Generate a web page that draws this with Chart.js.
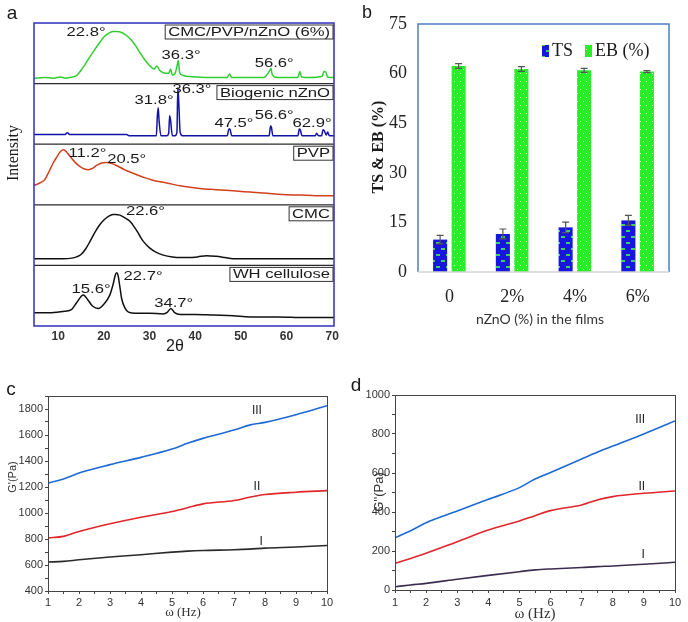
<!DOCTYPE html>
<html><head><meta charset="utf-8">
<script src="https://cdn.jsdelivr.net/npm/chart.js@4.4.1/dist/chart.umd.min.js"></script>
<style>
html,body{margin:0;padding:0;background:#fff;}
#wrap{position:relative;width:688px;height:622px;overflow:hidden;background:#fff;}
canvas{position:absolute;}
.t{position:absolute;white-space:nowrap;transform:translate(-50%,-50%);line-height:1;color:#1a1a1a;}
.r{transform:translate(-50%,-50%) rotate(-90deg);}
</style></head><body>
<div id="wrap">
  <canvas id="ca" style="left:0;top:0"></canvas>
  <canvas id="cb" style="left:345px;top:0"></canvas>
  <canvas id="cc" style="left:0;top:370px"></canvas>
  <canvas id="cd" style="left:345px;top:370px"></canvas>
  <div class="t" style="left:12px;top:13px;font:19px 'Liberation Sans'">a</div>
  <div class="t" style="left:367px;top:12px;font:18px 'Liberation Sans'">b</div>
  <div class="t" style="left:11px;top:389px;font:19px 'Liberation Sans'">c</div>
  <div class="t" style="left:356px;top:385px;font:19px 'Liberation Sans'">d</div>
  <div class="t r" style="left:13px;top:153px;font:16px 'Liberation Serif'">Intensity</div>
  <div class="t" style="left:175px;top:346px;font:16px 'Liberation Sans'">2θ</div>
  <div class="t r" style="left:378px;top:147px;font:bold 16px 'Liberation Serif'">TS &amp; EB (%)</div>
  <div class="t" style="left:540px;top:318px;font:14px Lato;color:#333">nZnO (%) in the films</div>
  <div class="t r" style="left:12px;top:477px;font:11px 'Liberation Sans';color:#333">G'(Pa)</div>
  <div class="t" style="left:183px;top:612px;font:13px 'Liberation Serif';color:#333">ω (Hz)</div>
  <div class="t r" style="left:378px;top:492px;font:13px 'Liberation Sans';color:#333">G''(Pa)</div>
  <div class="t" style="left:535px;top:613px;font:15px 'Liberation Serif';color:#333">ω (Hz)</div>
</div>
<script>
// ---------------- DATA ----------------
// Panel a: XRD patterns (2θ in degrees, relative intensity 0-100 within each band)
const xrdTicks = [10, 20, 30, 40, 50, 60, 70];
const bandLabels = ['CMC/PVP/nZnO (6%)', 'Biogenic nZnO', 'PVP', 'CMC', 'WH cellulose'];

const zno6Theta = [4.7, 7, 9, 10.5, 11.5, 12.5, 14, 15, 16, 17, 18, 19, 20, 21, 22, 22.8, 24, 25, 26, 27, 28, 29, 30, 31, 31.6, 32.2, 33, 34.2, 34.6, 35.0, 35.6, 36.0, 36.3, 36.6, 37.2, 38, 40, 44, 47, 47.5, 48, 50, 55, 56.3, 56.6, 56.9, 58, 62.5, 62.9, 63.3, 65, 67.8, 68.2, 68.6, 69, 70.4];
const zno6Int   = [9, 10, 9, 11, 9, 10, 13, 22, 33, 45, 56, 67, 77, 83, 86, 86, 84, 79, 72, 62, 50, 39, 30, 24, 29, 22, 18, 17, 24, 14, 17, 28, 38, 18, 14, 12, 11, 10, 10, 16, 10, 10, 10, 21, 25, 14, 10, 10, 20, 11, 10, 12, 20, 19, 11, 10];

const znoTheta = [4.7, 8, 11.5, 12, 12.5, 18, 20, 25, 25.5, 30, 31.5, 31.7, 31.9, 32.1, 32.5, 33.8, 34.2, 34.4, 34.6, 35.0, 35.6, 36.0, 36.2, 36.4, 36.7, 37.2, 40, 47.0, 47.4, 47.6, 48.0, 52, 56.2, 56.5, 56.7, 57.0, 60, 62.5, 62.8, 63.0, 63.4, 65, 66.3, 66.6, 67, 67.7, 68.0, 68.3, 68.7, 69.0, 69.4, 70.4];
const znoInt   = [16, 16, 16, 19, 16, 16, 16, 16, 14, 14, 14, 45, 60, 38, 14, 14, 18, 47, 40, 14, 14, 20, 93, 70, 20, 14, 14, 14, 25, 25, 14, 14, 14, 30, 28, 14, 14, 14, 25, 24, 14, 14, 14, 18, 14, 14, 24, 22, 15, 20, 14, 14];

const pvpTheta = [4.7, 6, 7.1, 8, 8.9, 9.8, 10.4, 11.1, 11.6, 12.6, 13.7, 14.8, 15.8, 16.6, 17.5, 18.4, 19.5, 20.6, 21.8, 23, 24.5, 26.4, 28.5, 30.5, 33.8, 37, 41, 44.5, 48.3, 52, 55.7, 59, 63, 66.5, 70.4];
const pvpInt   = [32, 36, 42, 55, 69, 80, 87, 91, 89, 80, 70, 63, 59, 58, 60, 65, 69, 70, 68, 64, 58, 52, 46, 41, 36, 31, 27, 25, 23, 21, 19, 17, 16, 15, 15];

const cmcTheta = [4.7, 8, 11, 13, 14, 15, 16, 17, 18, 19.1, 20, 21, 22, 22.6, 23.5, 24.5, 25.7, 26.8, 27.7, 28.6, 30, 31.6, 33, 35, 36.7, 38.5, 40.5, 42.5, 44.5, 46.5, 48.3, 52, 58, 64, 70.4];
const cmcInt   = [11, 11, 11, 12, 14, 18, 27, 40, 54, 67, 75, 81, 84, 84, 83, 79, 73, 62, 51, 40, 29, 21, 17, 14, 13, 13, 14, 16, 15, 13, 11, 11, 11, 11, 11];

const whTheta = [4.7, 8, 11, 12.9, 14, 15.5, 16.5, 17.5, 18.8, 20, 21.3, 22.0, 22.5, 22.8, 23.1, 23.5, 23.9, 24.6, 25.4, 27, 30, 33, 33.8, 34.7, 35.5, 36.7, 40, 44, 48.3, 52, 58, 64, 70.4];
const whInt   = [22, 22, 24, 27, 38, 51, 43, 33, 29, 36, 51, 68, 84, 88, 84, 65, 45, 30, 23, 21, 21, 20, 22, 29, 22, 19, 19, 18, 17, 15, 15, 14, 14];

const xrdThetas = [zno6Theta, znoTheta, pvpTheta, cmcTheta, whTheta];
const xrdInts = [zno6Int, znoInt, pvpInt, cmcInt, whInt];

// peak annotation texts per band
const peakTexts = [['22.8°', '36.3°', '56.6°'], ['31.8°', '36.3°', '47.5°', '56.6°', '62.9°'], ['11.2°', '20.5°'], ['22.6°'], ['22.7°', '15.6°', '34.7°']];

// Panel b: mechanical properties
const filmCats = ['0', '2%', '4%', '6%'];
const tsValues = [9.8, 11.5, 13.5, 15.6];
const tsErr = [1.3, 1.5, 1.6, 1.5];
const ebValues = [62.3, 61.4, 61.0, 60.6];
const ebErr = [0.7, 0.7, 0.6, 0.3];

// Panels c, d: rheology
const omega = [1, 1.5, 2, 3, 4, 5, 5.5, 6, 7, 7.5, 8, 9, 10];
const gPrimeIII = [1231, 1262, 1308, 1372, 1428, 1492, 1536, 1574, 1638, 1676, 1697, 1756, 1825];
const gPrimeII  = [809, 820, 858, 917, 968, 1011, 1040, 1070, 1096, 1121, 1142, 1160, 1172];
const gPrimeI   = [623, 628, 640, 661, 679, 699, 707, 712, 717, 722, 730, 738, 750];
const gDblIII = [268, 304, 345, 405, 465, 525, 569, 603, 672, 706, 738, 800, 867];
const gDblII  = [137, 162, 188, 248, 308, 354, 381, 407, 436, 462, 479, 496, 508];
const gDblI   = [17, 26, 34, 55, 75, 94, 103, 108, 115, 120, 123, 132, 142];
const seriesNames = ['I', 'II', 'III'];

// ---------------- STYLE / LAYOUT ----------------
Chart.defaults.animation = false;
Chart.defaults.font.family = "'Liberation Sans', Arial, sans-serif";
Chart.defaults.plugins.legend.display = false;
Chart.defaults.plugins.tooltip.enabled = false;

function sizeCanvas(id, w, h) {
  const c = document.getElementById(id);
  c.width = w; c.height = h; c.style.width = w + 'px'; c.style.height = h + 'px';
  return c;
}
function stretchText(ctx, txt, cx, cy, sx) {
  ctx.save(); ctx.translate(cx, cy); ctx.scale(sx, 1);
  ctx.textAlign = 'center'; ctx.textBaseline = 'middle';
  ctx.fillText(txt, 0, 0); ctx.restore();
}

// ---------- Panel a ----------
const bandColors = ['#2fcf2f', '#1212a8', '#d2401e', '#111111', '#111111'];
// annotation anchors [2θ, intensity] (layout only)
const peakAnchors = [[[16.1, 85], [36.9, 47], [57.3, 33]],
  [[31.0, 72], [39.3, 90], [48.5, 35], [57.3, 48], [65.6, 35]],
  [[16.4, 85], [25.0, 75]],
  [[29.1, 89]],
  [[28.6, 82], [17.2, 61], [35.3, 38]]];

const scalesA = {
  x: {
    type: 'linear', min: 4.7, max: 70.4,
    afterBuildTicks: s => { s.ticks = xrdTicks.map(v => ({ value: v })); },
    ticks: { font: { weight: 'bold', size: 12 }, color: '#333', padding: 3, maxRotation: 0, autoSkip: false },
    grid: { display: false, drawTicks: false }, border: { display: false },
    afterFit: s => { s.height = 34; }
  }
};
for (let i = 4; i >= 0; i--) {
  scalesA['b' + i] = {
    type: 'linear', position: 'left', stack: 'xrd', stackWeight: 1, min: 0, max: 100,
    ticks: { display: false }, grid: { display: false, drawTicks: false }, border: { display: false },
    afterFit: s => { s.width = 34; }
  };
}
const xrdPlugin = {
  id: 'xrdDeco',
  afterDraw(chart) {
    const { ctx, chartArea: a, scales } = chart;
    ctx.save();
    ctx.strokeStyle = '#2a2a2a'; ctx.lineWidth = 1.2;
    for (let i = 1; i < 5; i++) {
      const y = scales['b' + i].top;
      ctx.beginPath(); ctx.moveTo(a.left, y); ctx.lineTo(a.right, y); ctx.stroke();
    }
    ctx.strokeStyle = '#3b3bc4'; ctx.lineWidth = 1.6;
    ctx.strokeRect(a.left, a.top, a.right - a.left, a.bottom - a.top);
    ctx.font = "13px 'Liberation Sans'";
    const sx = 1.28;
    for (let i = 0; i < 5; i++) {
      const s = scales['b' + i];
      const w = ctx.measureText(bandLabels[i]).width * sx + 6, h = 14;
      const x1 = a.right - w - 1, y1 = s.top + 2;
      ctx.fillStyle = '#fff'; ctx.fillRect(x1, y1, w, h);
      ctx.strokeStyle = '#333'; ctx.lineWidth = 1; ctx.strokeRect(x1, y1, w, h);
      ctx.fillStyle = '#1a1a1a';
      stretchText(ctx, bandLabels[i], x1 + w / 2, y1 + h / 2 + 0.5, sx);
      peakTexts[i].forEach((t, j) => {
        const [th, inten] = peakAnchors[i][j];
        stretchText(ctx, t, scales.x.getPixelForValue(th), s.getPixelForValue(inten), sx);
      });
    }
    ctx.restore();
  }
};
new Chart(sizeCanvas('ca', 345, 360), {
  type: 'line',
  data: {
    datasets: xrdThetas.map((th, i) => ({
      label: bandLabels[i],
      data: th.map((t, j) => ({ x: t, y: xrdInts[i][j] })),
      yAxisID: 'b' + i, borderColor: bandColors[i], borderWidth: 1.5,
      pointRadius: 0, cubicInterpolationMode: 'monotone', fill: false
    }))
  },
  options: { responsive: false, layout: { padding: { top: 23, right: 11, left: 0, bottom: 0 } }, scales: scalesA },
  plugins: [xrdPlugin]
});

// ---------- Panel b ----------
function makePattern(w, h, bg, fg, marks) {
  const c = document.createElement('canvas'); c.width = w; c.height = h;
  const x = c.getContext('2d');
  x.fillStyle = bg; x.fillRect(0, 0, w, h);
  x.fillStyle = fg; marks.forEach(m => x.fillRect(m[0], m[1], m[2], m[3]));
  return x.createPattern(c, 'repeat');
}
const tsPattern = makePattern(10, 12, '#1616dc', '#3fd060', [[1, 2, 4, 2], [6, 8, 4, 2]]);
const ebPattern = makePattern(6, 8, '#27ee27', '#c8ffc8', [[1, 1, 1, 1], [4, 5, 1, 1]]);
const barPlugin = {
  id: 'barDeco',
  afterDatasetsDraw(chart) {
    const { ctx, chartArea: a, scales } = chart;
    ctx.save();
    // frame
    ctx.strokeStyle = '#4a80c4'; ctx.lineWidth = 1.5;
    ctx.beginPath(); ctx.moveTo(a.left, a.bottom); ctx.lineTo(a.left, a.top); ctx.lineTo(a.right, a.top); ctx.lineTo(a.right, a.bottom); ctx.stroke();
    ctx.strokeStyle = '#d4d4d4';
    ctx.beginPath(); ctx.moveTo(a.left, a.bottom); ctx.lineTo(a.right, a.bottom); ctx.stroke();
    // error bars
    const errs = [tsErr, ebErr];
    ctx.strokeStyle = '#555'; ctx.lineWidth = 1.2;
    chart.data.datasets.forEach((ds, d) => {
      chart.getDatasetMeta(d).data.forEach((el, k) => {
        const v = ds.data[k], e = errs[d][k];
        const yt = scales.y.getPixelForValue(v + e), yb = scales.y.getPixelForValue(v - e);
        ctx.beginPath();
        ctx.moveTo(el.x, yt); ctx.lineTo(el.x, yb);
        ctx.moveTo(el.x - 3.5, yt); ctx.lineTo(el.x + 3.5, yt);
        ctx.moveTo(el.x - 3.5, yb); ctx.lineTo(el.x + 3.5, yb);
        ctx.stroke();
      });
    });
    // legend
    ctx.font = "18px 'Liberation Serif'"; ctx.textBaseline = 'middle'; ctx.textAlign = 'left';
    const legX = [a.left + 124, a.left + 167];
    chart.data.datasets.forEach((ds, d) => {
      ctx.fillStyle = ds.backgroundColor; ctx.fillRect(legX[d], a.top + 21, 7, 12);
      ctx.fillStyle = '#1a1a1a'; ctx.fillText(ds.label, legX[d] + 10, a.top + 27.5);
    });
    ctx.restore();
  }
};
new Chart(sizeCanvas('cb', 343, 330), {
  type: 'bar',
  data: {
    labels: filmCats,
    datasets: [
      { label: 'TS', data: tsValues, backgroundColor: tsPattern, categoryPercentage: 0.59, barPercentage: 0.76 },
      { label: 'EB (%)', data: ebValues, backgroundColor: ebPattern, categoryPercentage: 0.59, barPercentage: 0.76 }
    ]
  },
  options: {
    responsive: false,
    layout: { padding: { top: 24, right: 19, left: 0, bottom: 0 } },
    scales: {
      x: { grid: { display: false, drawTicks: false }, border: { display: false },
           ticks: { font: { family: "'Liberation Serif'", size: 18 }, color: '#222', padding: 14 },
           afterFit: s => { s.height = 58; } },
      y: { min: 0, max: 75, ticks: { stepSize: 15, font: { family: "'Liberation Serif'", size: 18 }, color: '#222', padding: 11 },
           grid: { display: false, drawTicks: false }, border: { display: false },
           afterFit: s => { s.width = 73; } }
    }
  },
  plugins: [barPlugin]
});

// ---------- Panels c, d ----------
function rheoChart(id, w, h, series, colors, yMin, yMax, pad, yW, xH, anchors, xPad) {
  const framePlugin = {
    id: 'frame_' + id,
    afterDraw(chart) {
      const { ctx, chartArea: a, scales } = chart;
      ctx.save();
      ctx.strokeStyle = '#444'; ctx.lineWidth = 1;
      ctx.strokeRect(a.left + 0.5, a.top + 0.5, a.right - a.left, a.bottom - a.top);
      ctx.fillStyle = '#222'; ctx.font = "12px 'Liberation Sans'";
      ctx.textAlign = 'center'; ctx.textBaseline = 'middle';
      seriesNames.forEach((n, i) => {
        ctx.fillText(n, scales.x.getPixelForValue(anchors[i][0]), scales.y.getPixelForValue(anchors[i][1]));
      });
      ctx.restore();
    }
  };
  return new Chart(sizeCanvas(id, w, h), {
    type: 'line',
    data: {
      datasets: series.map((s, i) => ({
        label: seriesNames[i], data: omega.map((o, j) => ({ x: o, y: s[j] })),
        borderColor: colors[i], borderWidth: 1.6, pointRadius: 0, cubicInterpolationMode: 'monotone', fill: false
      }))
    },
    options: {
      responsive: false,
      layout: { padding: pad },
      scales: {
        x: { type: 'linear', min: 1, max: 10,
             ticks: { stepSize: 0.5, autoSkip: false, maxRotation: 0, font: { size: 11 }, color: '#333', padding: xPad,
                      callback: v => Number.isInteger(v) ? v : '' },
             grid: { display: true, drawOnChartArea: false, drawTicks: true, tickLength: 3, color: '#444', tickColor: '#444' },
             border: { display: false }, afterFit: s => { s.height = xH; } },
        y: { min: yMin, max: yMax,
             ticks: { stepSize: 100, autoSkip: false, font: { size: 11 }, color: '#333', padding: 2,
                      callback: v => v % 200 === 0 ? v : '' },
             grid: { display: true, drawOnChartArea: false, drawTicks: true, tickLength: 3, color: '#444', tickColor: '#444' },
             border: { display: false }, afterFit: s => { s.width = yW; } }
      }
    },
    plugins: [framePlugin]
  });
}
rheoChart('cc', 345, 252, [gPrimeI, gPrimeII, gPrimeIII], ['#2a2a2a', '#e0262b', '#1d6ad4'],
  400, 1900, { top: 26, right: 18, left: 0, bottom: 0 }, 48, 31,
  [[7.88, 776], [7.74, 1203], [7.74, 1787]], 2);
rheoChart('cd', 343, 252, [gDblI, gDblII, gDblIII], ['#3b2d4f', '#e0262b', '#1d6ad4'],
  0, 1000, { top: 25, right: 13, left: 0, bottom: 0 }, 50, 32,
  [[8.98, 183], [8.93, 530], [8.88, 875]], 3);
</script>
</body></html>
